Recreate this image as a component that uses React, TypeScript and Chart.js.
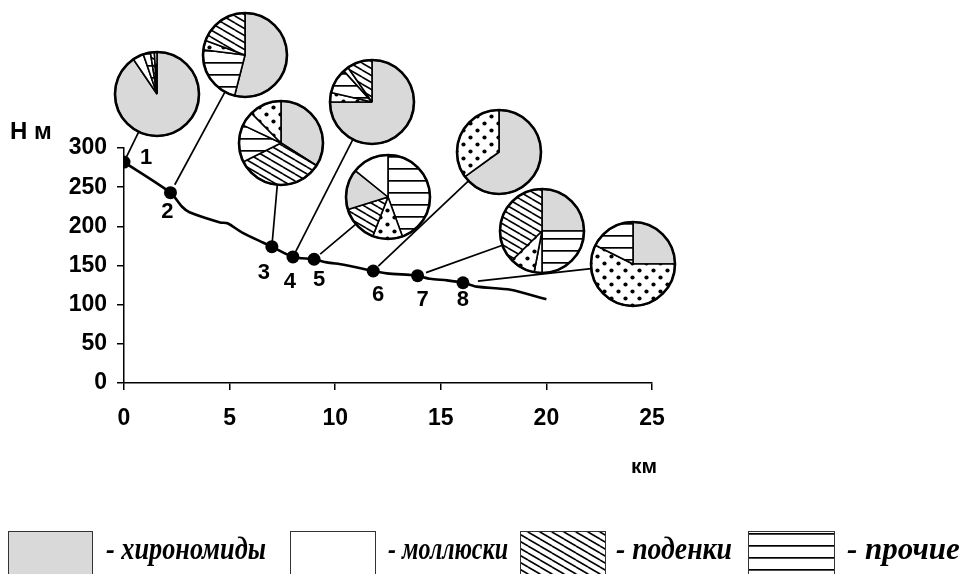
import React, { useEffect, useRef } from 'react';
import { Chart, registerables } from 'chart.js';
Chart.register(...registerables);

// ---------- DATA ----------
const profileKm = [0, 2.2, 2.75, 3.1, 4.55, 4.9, 5.6, 6.6, 7.0, 8.0, 9.0, 9.6, 10.4, 11.8, 12.45, 13.5, 13.9, 14.5, 15.3, 16.05, 16.7, 18.3, 20.0];
const profileH = [282, 243, 225, 218, 205, 204, 192, 179, 174, 161, 158, 154, 151, 143, 140, 138, 137, 133, 131, 128, 123, 119, 107];

const stationNames = ['1', '2', '3', '4', '5', '6', '7', '8'];
const stationKm = [0, 2.2, 7.0, 8.0, 9.0, 11.8, 13.9, 16.05];
const stationH = [282, 243, 174, 161, 158, 143, 137, 128];

const xMin = 0, xMax = 25, xStep = 5;
const yMin = 0, yMax = 300, yStep = 50;
const yTitle = 'Н м';
const xTitle = 'км';

const legendKinds = ['chiro', 'moll', 'pod', 'proch'];
const legendLabels = ['- хирономиды', '- моллюски', '- поденки', '- прочие'];

// slices of each station's pie, clockwise from 12 o'clock (percent)
const pie1Kinds = ['chiro', 'moll', 'proch', 'pod', 'dots'];
const pie1Values = [90.5, 4.2, 2.8, 1.5, 1.0];
const pie2Kinds = ['chiro', 'proch', 'dots', 'pod'];
const pie2Values = [54, 23, 3.6, 19.4];
const pie3Kinds = ['chiro', 'pod', 'proch', 'moll', 'dots'];
const pie3Values = [34, 33.6, 14.4, 5.6, 12.4];
const pie4Kinds = ['chiro', 'dots', 'proch', 'moll', 'pod'];
const pie4Values = [75, 3.6, 9.7, 2, 9.7];
const pie5Kinds = ['proch', 'dots', 'pod', 'chiro', 'moll'];
const pie5Values = [44.4, 11.5, 14.3, 15.6, 14.2];
const pie6Kinds = ['chiro', 'dots'];
const pie6Values = [65, 35];
const pie7Kinds = ['chiro', 'proch', 'moll', 'dots', 'pod'];
const pie7Values = [25, 25, 3, 9.7, 37.3];
const pie8Kinds = ['chiro', 'dots', 'proch'];
const pie8Values = [25, 57.4, 17.6];

const pieKinds = [pie1Kinds, pie2Kinds, pie3Kinds, pie4Kinds, pie5Kinds, pie6Kinds, pie7Kinds, pie8Kinds];
const pieValues = [pie1Values, pie2Values, pie3Values, pie4Values, pie5Values, pie6Values, pie7Values, pie8Values];

// ---------- LAYOUT ----------
const W = 972, H = 574;
const pieCenters = [[157, 94], [245, 55], [281, 143], [372, 102], [388, 197], [499, 152], [542, 231], [633, 264]];
const pieRadius = 42;
const leaderGap = [6, 9, 5, 6, 8, 7, 9, 15];
const labelOffsets = [[22, -4], [-3, 19], [-8, 26], [-3, 25], [5, 21], [5, 24], [5, 24], [0, 17]];
const legendBoxes = [[8, 92], [290, 375], [520, 605], [748, 834]];
const legendText = [[106, 160], [388, 120], [616, 116], [847, 120]];
const legendTop = 531;

function makePattern(kind: string): any {
  if (kind === 'chiro') return '#d9d9d9';
  if (kind === 'moll') return '#ffffff';
  const c = document.createElement('canvas');
  const ctx = c.getContext('2d')!;
  if (kind === 'pod') {
    const w = 12, h = 7;
    c.width = w; c.height = h;
    ctx.fillStyle = '#fff'; ctx.fillRect(0, 0, w, h);
    ctx.strokeStyle = '#000'; ctx.lineWidth = 1.6;
    for (let k = -1; k <= 1; k++) {
      ctx.beginPath(); ctx.moveTo(0, k * h); ctx.lineTo(w, k * h + h); ctx.stroke();
    }
  } else if (kind === 'proch') {
    c.width = 8; c.height = 12;
    ctx.fillStyle = '#fff'; ctx.fillRect(0, 0, 8, 12);
    ctx.fillStyle = '#000'; ctx.fillRect(0, 5, 8, 1.7);
  } else {
    c.width = 14; c.height = 14;
    ctx.fillStyle = '#fff'; ctx.fillRect(0, 0, 14, 14);
    ctx.fillStyle = '#000';
    [[3.5, 3.5], [10.5, 10.5]].forEach(([x, y]) => { ctx.beginPath(); ctx.arc(x, y, 2.1, 0, Math.PI * 2); ctx.fill(); });
  }
  return ctx.createPattern(c, 'repeat');
}

function PieInset({ idx }: { idx: number }) {
  const ref = useRef<HTMLCanvasElement>(null);
  const S = 2 * (pieRadius + 4);
  useEffect(() => {
    const outline = {
      id: 'outline',
      afterDraw(chart: any) {
        const arc = chart.getDatasetMeta(0).data[0];
        if (!arc) return;
        const ctx = chart.ctx;
        ctx.save();
        ctx.beginPath();
        ctx.arc(arc.x, arc.y, arc.outerRadius, 0, Math.PI * 2);
        ctx.lineWidth = 2.6; ctx.strokeStyle = '#000'; ctx.stroke();
        ctx.restore();
      },
    };
    const chart = new Chart(ref.current!, {
      type: 'pie',
      data: {
        labels: pieKinds[idx],
        datasets: [{
          data: pieValues[idx],
          backgroundColor: pieKinds[idx].map(makePattern),
          borderColor: '#000',
          borderWidth: 1.6,
        }],
      },
      options: {
        responsive: false,
        animation: false,
        events: [],
        radius: pieRadius,
        layout: { padding: 0 },
        plugins: { legend: { display: false }, tooltip: { enabled: false } },
      } as any,
      plugins: [outline],
    });
    return () => chart.destroy();
  }, [idx]);
  const [cx, cy] = pieCenters[idx];
  return (
    <canvas ref={ref} width={S} height={S}
      style={{ position: 'absolute', left: cx - S / 2, top: cy - S / 2, width: S, height: S }} />
  );
}

export default function App() {
  const ref = useRef<HTMLCanvasElement>(null);
  useEffect(() => {
    const overlay = {
      id: 'overlay',
      beforeDatasetsDraw(chart: any) {
        const { ctx, scales } = chart;
        const x = scales.x, y = scales.y;
        ctx.save();
        ctx.strokeStyle = '#000'; ctx.lineWidth = 1.7;
        stationKm.forEach((km, i) => {
          const px = x.getPixelForValue(km), py = y.getPixelForValue(stationH[i]);
          const [cx, cy] = pieCenters[i];
          const dx = px - cx, dy = py - cy, d = Math.hypot(dx, dy);
          const ux = dx / d, uy = dy / d;
          ctx.beginPath();
          ctx.moveTo(cx + ux * pieRadius, cy + uy * pieRadius);
          ctx.lineTo(px - ux * leaderGap[i], py - uy * leaderGap[i]);
          ctx.stroke();
        });
        ctx.restore();
      },
      afterDraw(chart: any) {
        const { ctx, scales } = chart;
        const x = scales.x, y = scales.y;
        ctx.save();
        ctx.fillStyle = '#000';
        ctx.textAlign = 'center'; ctx.textBaseline = 'middle';
        ctx.font = 'bold 22px "Liberation Sans", Arial, sans-serif';
        stationKm.forEach((km, i) => {
          const px = x.getPixelForValue(km), py = y.getPixelForValue(stationH[i]);
          ctx.fillText(stationNames[i], px + labelOffsets[i][0], py + labelOffsets[i][1]);
        });
        ctx.font = 'bold 24px "Liberation Sans", Arial, sans-serif';
        ctx.textAlign = 'left';
        ctx.fillText(yTitle, 10, 132);
        ctx.font = 'bold 21px "Liberation Sans", Arial, sans-serif';
        ctx.fillText(xTitle, 631, 467);
        // legend
        legendKinds.forEach((k, i) => {
          const [x0, x1] = legendBoxes[i];
          ctx.fillStyle = makePattern(k);
          ctx.fillRect(x0, legendTop, x1 - x0, H - legendTop + 5);
          ctx.strokeStyle = '#333'; ctx.lineWidth = 1;
          ctx.strokeRect(x0 + 0.5, legendTop + 0.5, x1 - x0, H - legendTop + 5);
          ctx.fillStyle = '#000';
          ctx.font = 'italic bold 31px "Liberation Serif", "Times New Roman", serif';
          ctx.textBaseline = 'alphabetic';
          ctx.fillText(legendLabels[i], legendText[i][0], 559, legendText[i][1]);
        });
        ctx.restore();
      },
    };
    const tickFont = { family: '"Liberation Sans", Arial, sans-serif', size: 23, weight: 'bold' };
    const chart = new Chart(ref.current!, {
      type: 'line',
      data: {
        datasets: [
          {
            data: profileKm.map((v, i) => ({ x: v, y: profileH[i] })),
            borderColor: '#000', borderWidth: 2.6, pointRadius: 0, tension: 0.25, fill: false,
          },
          {
            data: stationKm.map((v, i) => ({ x: v, y: stationH[i] })),
            showLine: false, pointRadius: 6.5, pointBackgroundColor: '#000', pointBorderColor: '#000', pointBorderWidth: 0,
          },
        ],
      },
      options: {
        responsive: false,
        animation: false,
        events: [],
        layout: { padding: { left: 0, top: 148, right: 320, bottom: 131 } },
        plugins: { legend: { display: false }, tooltip: { enabled: false } },
        scales: {
          x: {
            type: 'linear', min: xMin, max: xMax,
            afterFit: (s: any) => { s.height = 60; },
            ticks: { stepSize: xStep, font: tickFont, color: '#000', padding: 15, maxRotation: 0 },
            grid: { drawOnChartArea: false, drawTicks: true, tickLength: 7, color: '#000', lineWidth: 1.5 },
            border: { color: '#000', width: 1.5 },
          },
          y: {
            type: 'linear', min: yMin, max: yMax,
            afterFit: (s: any) => { s.width = 124; },
            ticks: { stepSize: yStep, font: tickFont, color: '#000', padding: 10 },
            grid: { drawOnChartArea: false, drawTicks: true, tickLength: 7, color: '#000', lineWidth: 1.5 },
            border: { color: '#000', width: 1.5 },
          },
        },
      } as any,
      plugins: [overlay],
    });
    return () => chart.destroy();
  }, []);
  return (
    <div style={{ position: 'absolute', left: 0, top: 0, width: W, height: H, background: '#fff', overflow: 'hidden' }}>
      <canvas ref={ref} width={W} height={H} style={{ position: 'absolute', left: 0, top: 0, width: W, height: H }} />
      {pieCenters.map((_, i) => <PieInset key={i} idx={i} />)}
    </div>
  );
}
